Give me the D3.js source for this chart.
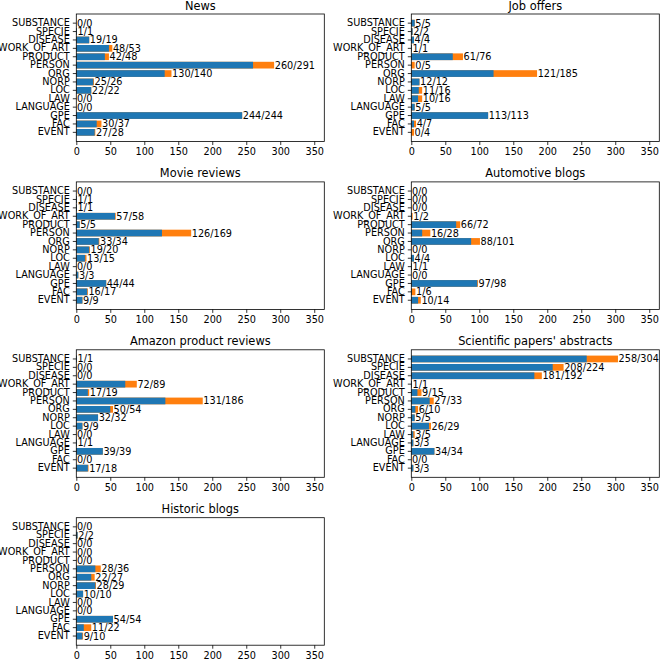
<!DOCTYPE html>
<html>
<head>
<meta charset="utf-8">
<script src="https://cdnjs.cloudflare.com/ajax/libs/d3/7.8.5/d3.min.js"></script>
<style>
  body { margin: 0; background: #fff; }
  text { font-family: "DejaVu Sans", sans-serif; }
</style>
</head>
<body>
<svg id="chart"></svg>
<script>
// categories, top to bottom
const categories = ["SUBSTANCE", "SPECIE", "DISEASE", "WORK_OF_ART", "PRODUCT", "PERSON",
  "ORG", "NORP", "LOC", "LAW", "LANGUAGE", "GPE", "FAC", "EVENT"];

const titles = ["News", "Job offers", "Movie reviews", "Automotive blogs",
  "Amazon product reviews", "Scientific papers' abstracts", "Historic blogs"];

// first number of each label (blue)
const newsFound = [0, 1, 19, 48, 42, 260, 130, 25, 22, 0, 0, 244, 30, 27];
const jobFound = [5, 2, 4, 1, 61, 0, 121, 12, 11, 10, 5, 113, 4, 0];
const movieFound = [0, 1, 1, 57, 5, 126, 33, 19, 13, 0, 3, 44, 16, 9];
const autoFound = [0, 0, 0, 1, 66, 16, 88, 0, 4, 1, 0, 97, 1, 10];
const amazonFound = [1, 0, 0, 72, 17, 131, 50, 32, 9, 0, 1, 39, 0, 17];
const sciFound = [258, 208, 181, 1, 9, 27, 6, 5, 26, 3, 3, 34, 0, 3];
const histFound = [0, 2, 0, 0, 0, 28, 22, 28, 10, 0, 0, 54, 11, 9];

// second number of each label (orange, total)
const newsTotal = [0, 1, 19, 53, 48, 291, 140, 26, 22, 0, 0, 244, 37, 28];
const jobTotal = [5, 2, 4, 1, 76, 5, 185, 12, 16, 16, 5, 113, 7, 4];
const movieTotal = [0, 1, 1, 58, 5, 169, 34, 20, 15, 0, 3, 44, 17, 9];
const autoTotal = [0, 0, 0, 2, 72, 28, 101, 0, 4, 1, 0, 98, 6, 14];
const amazonTotal = [1, 0, 0, 89, 19, 186, 54, 32, 9, 0, 1, 39, 0, 18];
const sciTotal = [304, 224, 192, 1, 15, 33, 10, 5, 29, 5, 3, 34, 0, 3];
const histTotal = [0, 2, 0, 0, 0, 36, 27, 29, 10, 0, 0, 54, 22, 10];

const xTicks = [0, 50, 100, 150, 200, 250, 300, 350];

const founds = [newsFound, jobFound, movieFound, autoFound, amazonFound, sciFound, histFound];
const totals = [newsTotal, jobTotal, movieTotal, autoTotal, amazonTotal, sciTotal, histTotal];

const W = 660, H = 659;
const colX = [76.3, 411.3];
const rowY = [14, 181.9, 349.8, 517.7];
const pw = 248, ph = 127.5;
const blue = "#1f77b4", orange = "#ff7f0e";
const fs = 9.7;

const svg = d3.select("#chart").attr("width", W).attr("height", H);

const xMax = d3.max(sciTotal) * 1.2;

titles.forEach((title, k) => {
  const ox = colX[k % 2], oy = rowY[Math.floor(k / 2)];
  const g = svg.append("g").attr("transform", `translate(${ox},${oy})`);

  const x = d3.scaleLinear().domain([0, xMax]).range([0, pw]);
  const y = d3.scaleBand().domain(categories).range([0, ph])
    .paddingInner(0.2).paddingOuter(0.69);

  const rows = categories.map((c, i) => ({ cat: c, found: founds[k][i], total: totals[k][i] }));

  // total bars (orange) behind found bars (blue)
  g.selectAll(".tot").data(rows).enter().append("rect")
    .attr("x", x(0)).attr("y", d => y(d.cat))
    .attr("width", d => x(d.total) - x(0)).attr("height", y.bandwidth())
    .attr("fill", orange);
  g.selectAll(".fnd").data(rows).enter().append("rect")
    .attr("x", x(0)).attr("y", d => y(d.cat))
    .attr("width", d => x(d.found) - x(0)).attr("height", y.bandwidth())
    .attr("fill", blue);

  // value labels
  g.selectAll(".lbl").data(rows).enter().append("text")
    .attr("x", d => x(d.total) + 0.6)
    .attr("y", d => y(d.cat) + y.bandwidth() / 2)
    .attr("dy", "0.36em")
    .attr("font-size", fs)
    .attr("fill", "#000")
    .text(d => `${d.found}/${d.total}`);

  // axes
  const yAxis = g.append("g")
    .call(d3.axisLeft(y).tickSize(3.5).tickPadding(3).tickSizeOuter(0));
  const xAxis = g.append("g").attr("transform", `translate(0,${ph})`)
    .call(d3.axisBottom(x).tickValues(xTicks).tickSize(3.5).tickPadding(3).tickSizeOuter(0));
  [yAxis, xAxis].forEach(a => {
    a.select(".domain").remove();
    a.selectAll("text").attr("font-size", fs).attr("fill", "#000")
      .style("font-family", "'DejaVu Sans', sans-serif");
    a.selectAll("line").attr("stroke", "#000").attr("stroke-width", 0.8);
  });

  // frame
  g.append("rect").attr("width", pw).attr("height", ph)
    .attr("fill", "none").attr("stroke", "#000").attr("stroke-width", 0.8);

  // title
  g.append("text").attr("x", pw / 2).attr("y", -4.5)
    .attr("text-anchor", "middle").attr("font-size", 11.4).attr("fill", "#000")
    .text(title);
});
</script>
</body>
</html>
